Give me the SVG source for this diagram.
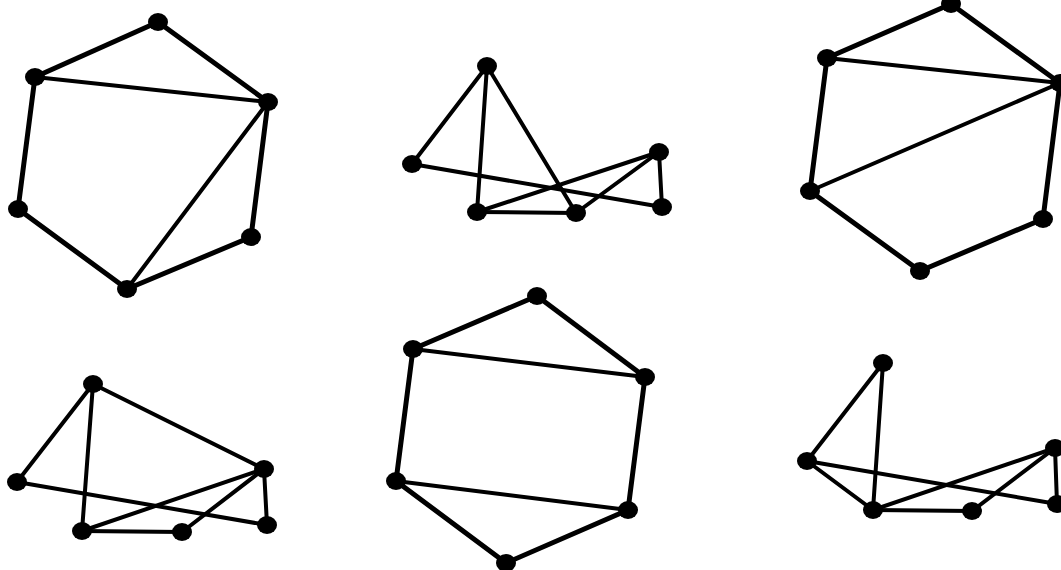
<svg xmlns="http://www.w3.org/2000/svg" width="1061" height="570" viewBox="0 0 1061 570">
<style>
.e{stroke:#000;fill:none;stroke-linecap:round}
.t{stroke-width:5}
.d{stroke-width:4}
.n{fill:#000}
</style>
<rect width="1061" height="570" fill="#fff"/>
<g id="connectors">
<!-- graph 1 -->
<line class="e t" x1="158" y1="22" x2="35" y2="77"/>
<line class="e t" x1="158" y1="22" x2="268" y2="102"/>
<line class="e d" x1="35" y1="77" x2="268" y2="102"/>
<line class="e t" x1="35" y1="77" x2="18" y2="209"/>
<line class="e t" x1="18" y1="209" x2="127" y2="289"/>
<line class="e t" x1="127" y1="289" x2="251" y2="237"/>
<line class="e t" x1="251" y1="237" x2="268" y2="102"/>
<line class="e d" x1="127" y1="289" x2="268" y2="102"/>
<!-- graph 2 -->
<line class="e d" x1="487" y1="66" x2="412" y2="164"/>
<line class="e d" x1="487" y1="66" x2="477" y2="212"/>
<line class="e d" x1="487" y1="66" x2="576" y2="213"/>
<line class="e d" x1="412" y1="164" x2="662" y2="207"/>
<line class="e d" x1="477" y1="212" x2="576" y2="213"/>
<line class="e d" x1="477" y1="212" x2="659" y2="152"/>
<line class="e d" x1="576" y1="213" x2="659" y2="152"/>
<line class="e d" x1="659" y1="152" x2="662" y2="207"/>
<!-- graph 3 -->
<line class="e t" x1="951" y1="4" x2="827" y2="58"/>
<line class="e t" x1="951" y1="4" x2="1060" y2="83"/>
<line class="e d" x1="827" y1="58" x2="1060" y2="83"/>
<line class="e t" x1="827" y1="58" x2="810" y2="191"/>
<line class="e d" x1="810" y1="191" x2="1060" y2="83"/>
<line class="e t" x1="810" y1="191" x2="920" y2="271"/>
<line class="e t" x1="920" y1="271" x2="1043" y2="219"/>
<line class="e t" x1="1043" y1="219" x2="1060" y2="83"/>
<!-- graph 4 -->
<line class="e d" x1="93" y1="384" x2="17" y2="482"/>
<line class="e d" x1="93" y1="384" x2="82" y2="531"/>
<line class="e d" x1="93" y1="384" x2="264" y2="469"/>
<line class="e d" x1="17" y1="482" x2="267" y2="525"/>
<line class="e d" x1="82" y1="531" x2="182" y2="532"/>
<line class="e d" x1="82" y1="531" x2="264" y2="469"/>
<line class="e d" x1="182" y1="532" x2="264" y2="469"/>
<line class="e d" x1="264" y1="469" x2="267" y2="525"/>
<!-- graph 5 -->
<line class="e t" x1="537" y1="296" x2="413" y2="349"/>
<line class="e t" x1="537" y1="296" x2="645" y2="377"/>
<line class="e d" x1="413" y1="349" x2="645" y2="377"/>
<line class="e t" x1="413" y1="349" x2="396" y2="481"/>
<line class="e d" x1="396" y1="481" x2="628" y2="510"/>
<line class="e t" x1="645" y1="377" x2="628" y2="510"/>
<line class="e t" x1="396" y1="481" x2="506" y2="563"/>
<line class="e t" x1="506" y1="563" x2="628" y2="510"/>
<!-- graph 6 -->
<line class="e d" x1="883" y1="363" x2="807" y2="461"/>
<line class="e d" x1="883" y1="363" x2="873" y2="510"/>
<line class="e d" x1="807" y1="461" x2="873" y2="510"/>
<line class="e d" x1="807" y1="461" x2="1057" y2="504"/>
<line class="e d" x1="873" y1="510" x2="972" y2="511"/>
<line class="e d" x1="873" y1="510" x2="1055" y2="448"/>
<line class="e d" x1="972" y1="511" x2="1055" y2="448"/>
<line class="e d" x1="1055" y1="448" x2="1057" y2="504"/>
</g>
<g id="g1n1"><ellipse class="n" cx="158" cy="22" rx="10" ry="9"/></g>
<g id="g1n2"><ellipse class="n" cx="35" cy="77" rx="10" ry="9"/></g>
<g id="g1n3"><ellipse class="n" cx="268" cy="102" rx="10" ry="9"/></g>
<g id="g1n4"><ellipse class="n" cx="18" cy="209" rx="10" ry="9"/></g>
<g id="g1n5"><ellipse class="n" cx="251" cy="237" rx="10" ry="9"/></g>
<g id="g1n6"><ellipse class="n" cx="127" cy="289" rx="10" ry="9"/></g>
<g id="g2n1"><ellipse class="n" cx="487" cy="66" rx="10" ry="9"/></g>
<g id="g2n2"><ellipse class="n" cx="412" cy="164" rx="10" ry="9"/></g>
<g id="g2n3"><ellipse class="n" cx="477" cy="212" rx="10" ry="9"/></g>
<g id="g2n4"><ellipse class="n" cx="576" cy="213" rx="10" ry="9"/></g>
<g id="g2n5"><ellipse class="n" cx="659" cy="152" rx="10" ry="9"/></g>
<g id="g2n6"><ellipse class="n" cx="662" cy="207" rx="10" ry="9"/></g>
<g id="g3n1"><ellipse class="n" cx="951" cy="4" rx="10" ry="9"/></g>
<g id="g3n2"><ellipse class="n" cx="827" cy="58" rx="10" ry="9"/></g>
<g id="g3n3"><ellipse class="n" cx="1060" cy="83" rx="10" ry="9"/></g>
<g id="g3n4"><ellipse class="n" cx="810" cy="191" rx="10" ry="9"/></g>
<g id="g3n5"><ellipse class="n" cx="1043" cy="219" rx="10" ry="9"/></g>
<g id="g3n6"><ellipse class="n" cx="920" cy="271" rx="10" ry="9"/></g>
<g id="g4n1"><ellipse class="n" cx="93" cy="384" rx="10" ry="9"/></g>
<g id="g4n2"><ellipse class="n" cx="17" cy="482" rx="10" ry="9"/></g>
<g id="g4n3"><ellipse class="n" cx="82" cy="531" rx="10" ry="9"/></g>
<g id="g4n4"><ellipse class="n" cx="182" cy="532" rx="10" ry="9"/></g>
<g id="g4n5"><ellipse class="n" cx="264" cy="469" rx="10" ry="9"/></g>
<g id="g4n6"><ellipse class="n" cx="267" cy="525" rx="10" ry="9"/></g>
<g id="g5n1"><ellipse class="n" cx="537" cy="296" rx="10" ry="9"/></g>
<g id="g5n2"><ellipse class="n" cx="413" cy="349" rx="10" ry="9"/></g>
<g id="g5n3"><ellipse class="n" cx="645" cy="377" rx="10" ry="9"/></g>
<g id="g5n4"><ellipse class="n" cx="396" cy="481" rx="10" ry="9"/></g>
<g id="g5n5"><ellipse class="n" cx="628" cy="510" rx="10" ry="9"/></g>
<g id="g5n6"><ellipse class="n" cx="506" cy="563" rx="10" ry="9"/></g>
<g id="g6n1"><ellipse class="n" cx="883" cy="363" rx="10" ry="9"/></g>
<g id="g6n2"><ellipse class="n" cx="807" cy="461" rx="10" ry="9"/></g>
<g id="g6n3"><ellipse class="n" cx="873" cy="510" rx="10" ry="9"/></g>
<g id="g6n4"><ellipse class="n" cx="972" cy="511" rx="10" ry="9"/></g>
<g id="g6n5"><ellipse class="n" cx="1055" cy="448" rx="10" ry="9"/></g>
<g id="g6n6"><ellipse class="n" cx="1057" cy="504" rx="10" ry="9"/></g>
</svg>
